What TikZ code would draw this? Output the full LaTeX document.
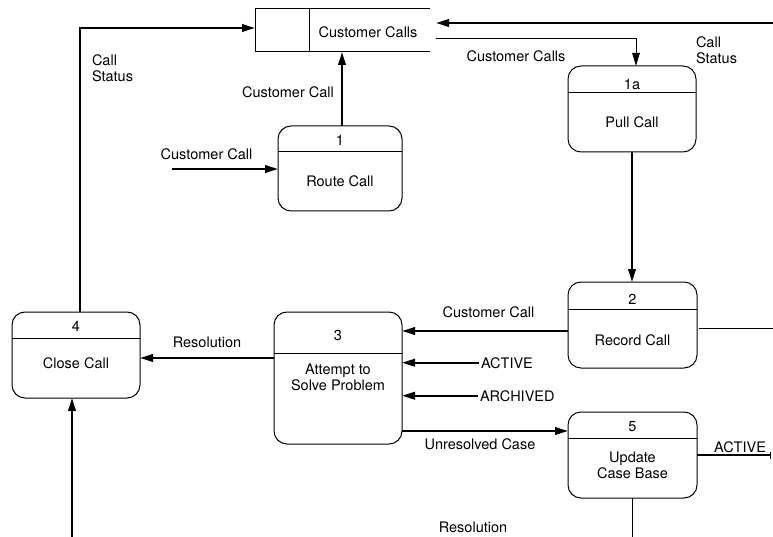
\documentclass[tikz,border=0pt]{standalone}
\usepackage{fontspec}
\setmainfont{TeX Gyre Heros}
\usetikzlibrary{arrows.meta,calc}
\begin{document}
\begin{tikzpicture}[x=1pt,y=-1pt,
  every node/.style={font=\fontsize{14.5}{16}\selectfont, inner sep=0pt, outer sep=0pt},
  proc/.style={draw, line width=1pt, rounded corners=13pt},
  sep/.style={line width=1pt},
  flow/.style={line width=2.2pt, -{Triangle[length=13pt,width=7.5pt]}},
  thinflow/.style={line width=1pt, -{Triangle[length=13pt,width=7.5pt]}},
  plain/.style={line width=0.9pt},
  lbl/.style={anchor=base},
]
\useasboundingbox (0,0) rectangle (773,537);

% data store
\node (store) [minimum width=175pt, minimum height=43pt] at (342.5,30.5) {};
\draw[sep] (store.north east) -- (store.north west) -- (store.south west) -- (store.south east);
\draw[sep] ($(store.north west)+(54,0)$) -- ($(store.south west)+(54,0)$);
\node[lbl] (storetxt) at (368,38) {Customer Calls};

% processes
\node[proc, minimum width=128pt, minimum height=86pt] (p1a) at (632,109) {};
\draw[sep] ($(p1a.north west)+(0,27)$) -- ($(p1a.north east)+(0,27)$);
\node[lbl] (n1a) at (632,90) {1a};
\node[lbl] (t1a) at (632,128) {Pull Call};

\node[proc, minimum width=124pt, minimum height=85pt] (p1) at (340,168.5) {};
\draw[sep] ($(p1.north west)+(0,26)$) -- ($(p1.north east)+(0,26)$);
\node[lbl] (n1) at (340,146) {1};
\node[lbl] (t1) at (340,187) {Route Call};

\node[proc, minimum width=129pt, minimum height=86pt] (p2) at (632.5,325) {};
\draw[sep] ($(p2.north west)+(0,27)$) -- ($(p2.north east)+(0,27)$);
\node[lbl] (n2) at (632.5,304) {2};
\node[lbl] (t2) at (632.5,345) {Record Call};

\node[proc, minimum width=128pt, minimum height=132pt] (p3) at (338,378) {};
\draw[sep] ($(p3.north west)+(0,41)$) -- ($(p3.north east)+(0,41)$);
\node[lbl] (n3) at (338,340) {3};
\node[anchor=north, align=center] (t3) at (338,364) {Attempt to\\Solve Problem};

\node[proc, minimum width=128pt, minimum height=86pt] (p4) at (76,355) {};
\draw[sep] ($(p4.north west)+(0,26)$) -- ($(p4.north east)+(0,26)$);
\node[lbl] (n4) at (76,331) {4};
\node[lbl] (t4) at (76,368) {Close Call};

\node[proc, minimum width=129pt, minimum height=86pt] (p5) at (632.5,455) {};
\draw[sep] ($(p5.north west)+(0,26)$) -- ($(p5.north east)+(0,26)$);
\node[lbl] (n5) at (632.5,431) {5};
\node[anchor=north, align=center] (t5) at (632.5,451.5) {Update\\Case Base};

% status flowing back into the store from the right
\coordinate (ext1) at (773,23);
\coordinate (sin) at ($(store.north east)+(6,14)$);
\draw[flow] (ext1) -- (sin);
\node[anchor=north west, align=left] (cs2) at (696,36.6) {Call\\Status};

% store to pull call
\coordinate (sout) at ($(store.south east)+(6,-13)$);
\coordinate (p1aTop) at ([xshift=4pt]p1a.north);
\draw[thinflow] (sout) -| (p1aTop);
\node[lbl] (cc1) at (516,62) {Customer Calls};

% route call into store
\coordinate (p1Top) at ([xshift=2pt]p1.north);
\draw[flow] (p1Top) -- (p1Top |- store.south);
\node[lbl] (cc2) at (288,98) {Customer Call};

% incoming customer call
\coordinate (cin) at (172,169);
\draw[flow] (cin) -- (cin -| p1.west);
\node[lbl] (cc3) at (206.5,160) {Customer Call};

% close call status back to store
\coordinate (p4Top) at ([xshift=4pt]p4.north);
\coordinate (swest) at ($(store.west)+(0,-2.5)$);
\draw[flow] (p4Top) |- (swest);
\node[anchor=north west, align=left] (cs1) at (92,54.6) {Call\\Status};

% pull call to record call
\draw[flow] (p1a.south) -- (p1a.south |- p2.north);

% record call to attempt
\coordinate (c2) at ($(p2.west)+(0,6)$);
\draw[flow] (c2) -- (c2 -| p3.east);
\node[lbl] (cc4) at (488.5,317) {Customer Call};

% case base inputs
\node[anchor=base west] (act) at (481,368) {ACTIVE};
\draw[flow] ([xshift=-2pt]act.west) -- (act.west -| p3.east);
\node[anchor=base west] (arch) at (480,401) {ARCHIVED};
\draw[flow] ([xshift=-2pt]arch.west) -- (arch.west -| p3.east);

% unresolved case
\coordinate (u5) at ($(p5.west)+(0,-24)$);
\draw[flow] (u5 -| p3.east) -- (u5);
\node[lbl] (uc) at (480,449) {Unresolved Case};

% resolution
\coordinate (r4) at ($(p4.east)+(0,3)$);
\draw[flow] (r4 -| p3.west) -- (r4);
\node[lbl] (res1) at (207,347) {Resolution};

% input from below into close call
\coordinate (b4) at ([xshift=-4pt]p4.south);
\coordinate (bin) at (b4 |- 0,537);
\draw[flow] (bin) -- (b4);

% record call outgoing
\coordinate (r2) at ([xshift=1.5pt,yshift=-3pt]p2.east);
\coordinate (r2end) at (r2 -| 773,0);
\draw[plain] (r2) -- (r2end);

% update case base outputs
\coordinate (a5end) at (p5.east -| 771,0);
\draw[line width=2.2pt, -{Bar[width=7pt,line width=1.5pt]}] (p5.east) -- (a5end);
\node[lbl] (act2) at (740,452) {ACTIVE};
\coordinate (p5end) at (p5.south |- 0,537);
\draw[plain] (p5.south) -- (p5end);
\node[lbl] (res2) at (473,532) {Resolution};
\end{tikzpicture}
\end{document}
